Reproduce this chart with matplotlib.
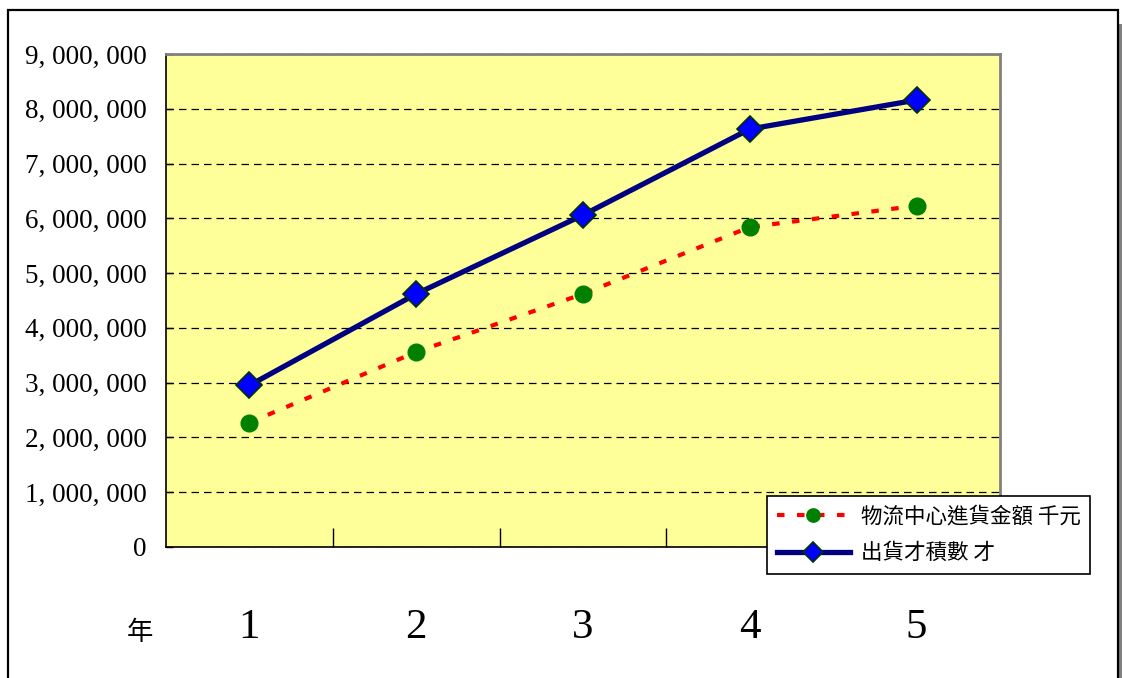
import matplotlib
matplotlib.use("Agg")
import matplotlib.pyplot as plt
from matplotlib.patches import Rectangle
from matplotlib.ticker import FuncFormatter, FixedLocator

# 年度與兩組數列
anos = [1, 2, 3, 4, 5]
rotulos_ano = ["1", "2", "3", "4", "5"]
gasto_entrada = [2270000, 3560000, 4620000, 5840000, 6230000]   # 物流中心進貨金額 千元
volume_saida = [2950000, 4620000, 6060000, 7630000, 8160000]    # 出貨才積數 才

nome_entrada = "物流中心進貨金額 千元"
nome_saida = "出貨才積數 才"
rotulo_x = "年"

fonte_cjk = ["Noto Sans CJK TC", "DejaVu Sans"]
fonte_num = "Liberation Serif"

fig = plt.figure(figsize=(11.23, 6.78), dpi=100)
ax = fig.add_axes([166 / 1123, 1 - 547 / 678, 834 / 1123, 493 / 678])
ax.set_facecolor("#FFFF99")

# moldura externa do gráfico, com sombra cinza à direita
fig.patches.append(Rectangle((1119 / 1123, -0.02), 3 / 1123, 1 - 24 / 678 + 0.02,
                             transform=fig.transFigure, facecolor="#808080",
                             edgecolor="none", zorder=0))
fig.patches.append(Rectangle((8 / 1123, -0.02), 1110 / 1123, 1 - 10 / 678 + 0.02,
                             transform=fig.transFigure, facecolor="none",
                             edgecolor="black", linewidth=1.6, zorder=1))

ax.plot(anos, gasto_entrada, color="#FF0000", linewidth=3, dashes=(1.8, 3.0),
        marker="o", markersize=12, markerfacecolor="#008000",
        markeredgecolor="#008000", label=nome_entrada, zorder=3)
ax.plot(anos, volume_saida, color="#000080", linewidth=3.8,
        marker="D", markersize=13, markerfacecolor="#0000FF",
        markeredgecolor="#003300", markeredgewidth=1.2, label=nome_saida, zorder=4)

ax.set_xlim(0.5, 5.5)
ax.set_ylim(0, 9000000)
ax.set_yticks(range(0, 9000001, 1000000))
ax.yaxis.set_major_formatter(FuncFormatter(lambda v, p: f"{int(v):,}".replace(",", ", ")))
ax.yaxis.grid(True, color="black", linestyle=(0, (6, 4)), linewidth=0.9)
ax.set_axisbelow(True)

# marcas entre as categorias, rótulos no centro de cada ano
ax.xaxis.set_major_locator(FixedLocator([1.5, 2.5, 3.5, 4.5]))
ax.xaxis.set_minor_locator(FixedLocator(anos))
ax.set_xticklabels([])
ax.set_xticklabels(rotulos_ano, minor=True)
ax.tick_params(axis="x", which="major", direction="in", length=14, width=1)
ax.tick_params(axis="x", which="minor", length=0, pad=44, labelsize=31)
ax.tick_params(axis="y", direction="in", length=5, width=1, pad=14, labelsize=19.5)
for lab in ax.get_xticklabels(minor=True) + ax.get_yticklabels():
    lab.set_fontfamily(fonte_num)

for lado in ("left", "bottom"):
    ax.spines[lado].set_color("black")
    ax.spines[lado].set_linewidth(1.2)
for lado in ("top", "right"):
    ax.spines[lado].set_color("#808080")
    ax.spines[lado].set_linewidth(2)

fig.text(140 / 1123, 1 - 632 / 678, rotulo_x, fontsize=19, family=fonte_cjk,
         ha="center", va="center")

leg = fig.legend(loc="lower left", bbox_to_anchor=(767 / 1123, 1 - 574 / 678),
                 prop={"family": fonte_cjk, "size": 15.5}, frameon=True,
                 fancybox=False, framealpha=1, edgecolor="black",
                 handlelength=3.4, borderpad=0.45, labelspacing=0.7,
                 handletextpad=0.5, markerscale=0.8, borderaxespad=0)
leg.get_frame().set_linewidth(1.2)
leg.set_zorder(10)

fig.savefig("out.png", dpi=100)
